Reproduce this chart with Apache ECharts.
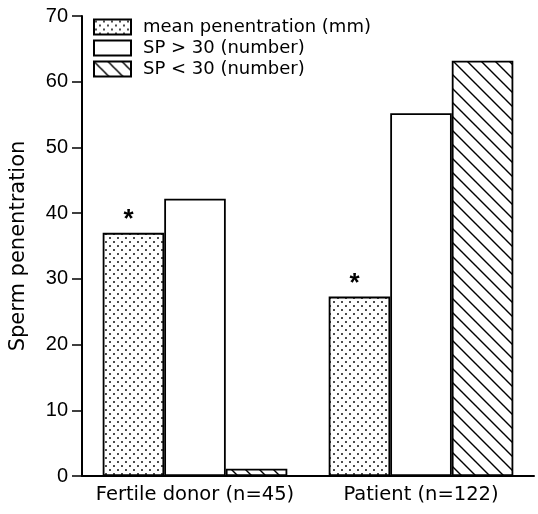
<!DOCTYPE html>
<html>
<head>
<meta charset="utf-8">
<script src="https://cdn.jsdelivr.net/npm/echarts@6/dist/echarts.min.js"></script>
<style>html,body{margin:0;padding:0;background:#fff;}#chart{width:538px;height:514px;}</style>
</head>
<body>
<div id="chart"></div>
<script>
const categories = ['Fertile donor (n=45)', 'Patient (n=122)'];
const seriesNames = ['mean penentration (mm)', 'SP > 30 (number)', 'SP < 30 (number)'];
const meanPenetration = [37, 27.3];
const spOver30 = [42.2, 55.2];
const spUnder30 = [1.1, 63.2];
const yTicks = [0, 10, 20, 30, 40, 50, 60, 70];

function dotPattern() {
  const c = document.createElement('canvas');
  c.width = 8; c.height = 8;
  const g = c.getContext('2d');
  g.fillStyle = '#fff'; g.fillRect(0, 0, 8, 8);
  g.fillStyle = '#000';
  g.beginPath(); g.arc(2, 2, 0.95, 0, Math.PI * 2); g.fill();
  g.beginPath(); g.arc(6, 6, 0.95, 0, Math.PI * 2); g.fill();
  return c;
}
function hatchPattern() {
  const s = 14;
  const c = document.createElement('canvas');
  c.width = s; c.height = s;
  const g = c.getContext('2d');
  g.fillStyle = '#fff'; g.fillRect(0, 0, s, s);
  g.strokeStyle = '#000'; g.lineWidth = 1.4;
  g.beginPath();
  g.moveTo(-2, -2); g.lineTo(s + 2, s + 2);
  g.moveTo(-2, s - 2); g.lineTo(2, s + 2);
  g.moveTo(s - 2, -2); g.lineTo(s + 2, 2);
  g.stroke();
  return c;
}

const font = 'DejaVu Sans';
const tickFont = 'Liberation Sans';
const chart = echarts.init(document.getElementById('chart'), null, {renderer: 'canvas'});
const barBase = {type: 'bar', barGap: 0, barCategoryGap: '18.3%'};
chart.setOption({
  animation: false,
  backgroundColor: '#fff',
  textStyle: {fontFamily: font, color: '#000'},
  grid: {left: 82, right: 4, top: 16, bottom: 38, containLabel: false, outerBoundsMode: 'none'},
  legend: {
    orient: 'vertical', left: 88, top: 13,
    itemWidth: 37, itemHeight: 15, itemGap: 3,
    icon: 'rect',
    textStyle: {fontFamily: font, fontSize: 18, color: '#000', padding: [0, 0, 0, 7]},
    data: seriesNames
  },
  xAxis: {
    type: 'category', data: categories,
    axisLine: {lineStyle: {color: '#000', width: 2}},
    axisTick: {show: false},
    axisLabel: {fontFamily: font, fontSize: 19.5, color: '#000', margin: 9, interval: 0, hideOverlap: false}
  },
  yAxis: {
    type: 'value', min: 0, max: 70, interval: 10,
    name: 'Sperm penentration', nameLocation: 'middle', nameGap: 53,
    nameTextStyle: {fontFamily: font, fontSize: 21, color: '#000'},
    axisLine: {show: true, lineStyle: {color: '#000', width: 2}},
    axisTick: {show: true, length: 10, lineStyle: {color: '#000', width: 1.5}},
    splitLine: {show: false},
    axisLabel: {fontFamily: tickFont, fontSize: 20, color: '#000', margin: 14,
      formatter: v => yTicks.includes(v) ? String(v) : ''}
  },
  series: [
    Object.assign({}, barBase, {
      name: seriesNames[0], data: meanPenetration,
      itemStyle: {color: {image: dotPattern(), repeat: 'repeat'}, borderColor: '#000', borderWidth: 1.8},
      label: {show: true, position: 'top', formatter: '*', fontSize: 26, fontWeight: 'bold', color: '#000', distance: 0, offset: [-5, 0], fontFamily: tickFont}
    }),
    Object.assign({}, barBase, {
      name: seriesNames[1], data: spOver30,
      itemStyle: {color: '#fff', borderColor: '#000', borderWidth: 1.8}
    }),
    Object.assign({}, barBase, {
      name: seriesNames[2], data: spUnder30,
      itemStyle: {color: {image: hatchPattern(), repeat: 'repeat'}, borderColor: '#000', borderWidth: 1.8}
    })
  ]
});
</script>
</body>
</html>
